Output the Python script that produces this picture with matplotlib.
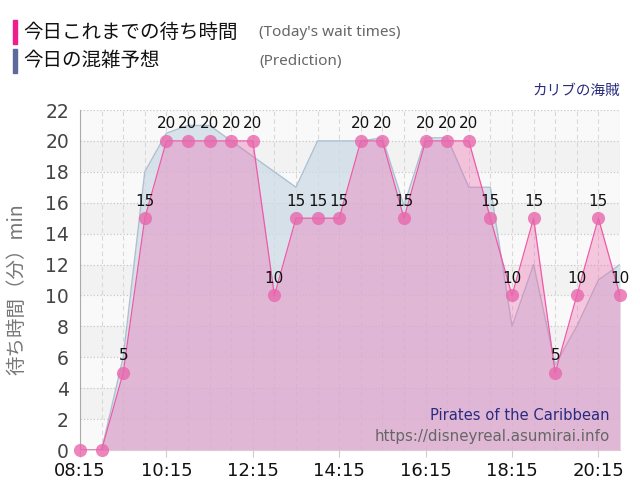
import matplotlib
matplotlib.use('Agg')
import matplotlib.pyplot as plt

plt.rcParams['font.family'] = ['DejaVu Sans', 'Noto Sans CJK JP']

# 30分ごとの時刻
times = ['08:15', '08:45', '09:15', '09:45', '10:15', '10:45', '11:15', '11:45', '12:15',
         '12:45', '13:15', '13:45', '14:15', '14:45', '15:15', '15:45', '16:15', '16:45',
         '17:15', '17:45', '18:15', '18:45', '19:15', '19:45', '20:15', '20:45']
# 今日これまでの待ち時間
actual = [0, 0, 5, 15, 20, 20, 20, 20, 20, 10, 15, 15, 15, 20, 20, 15, 20, 20, 20, 15, 10, 15, 5, 10, 15, 10]
# 今日の混雑予想
predict = [0, 0, 6, 18, 20.5, 21, 21, 20, 19, 18, 17, 20, 20, 20, 20.2, 15.8, 20.2, 20.2, 17, 17, 8, 12,
           5.5, 8, 11, 12]
tick_labels = ['08:15', '10:15', '12:15', '14:15', '16:15', '18:15', '20:15']

def to_min(t):
    h, m = t.split(':')
    return int(h) * 60 + int(m)

x = [to_min(t) for t in times]
xticks = [to_min(t) for t in tick_labels]

fig = plt.figure(figsize=(6.4, 5), dpi=100)
ax = fig.add_axes([80 / 640, 1 - 450 / 500, 540 / 640, 340 / 500])

# 背景の縞
for k in range(11):
    c = '#f9f9f9' if k % 2 == 0 else '#f2f2f2'
    ax.axhspan(2 * k, 2 * k + 2, color=c, zorder=0, lw=0)

ax.set_xlim(x[0], x[-1])
ax.set_ylim(0, 22)

# グリッド
for v in x:
    ax.axvline(v, color='#d8d8d8', lw=0.8, ls=(0, (4, 3)), zorder=1)
ax.grid(axis='y', color='#c8c8c8', lw=0.9, ls=':', zorder=1)
ax.set_axisbelow(True)

# 予想
ax.fill_between(x, predict, 0, color='#cddbe6', alpha=0.75, lw=0, zorder=2)
ax.plot(x, predict, color='#aec0cf', lw=1, zorder=3)
# 実績
ax.fill_between(x, actual, 0, color='#f06ab0', alpha=0.35, lw=0, zorder=4)
ax.plot(x, actual, color='#ee5aa8', lw=0.9, zorder=5)
ax.plot(x, actual, 'o', color='#e868ad', alpha=0.8, ms=9.5, mec='none', zorder=6, clip_on=False)

for xi, yi in zip(x, actual):
    if yi > 0:
        ax.annotate(str(yi), (xi, yi), xytext=(0, 9), textcoords='offset points',
                    ha='center', va='baseline', fontsize=11, color='#111111', zorder=7)

ax.set_yticks(range(0, 23, 2))
ax.set_xticks(xticks)
ax.set_xticklabels(tick_labels, fontsize=13, color='#111111')
ax.tick_params(axis='y', labelsize=13.5, labelcolor='#444444', length=0, pad=8)
ax.tick_params(axis='x', length=5, color='#cccccc', pad=4)
for s in ['top', 'right']:
    ax.spines[s].set_visible(False)
ax.spines['left'].set_color('#aaaaaa')
ax.spines['bottom'].set_color('#dddddd')

fig.text(17 / 640, 1 - 289 / 500, '待ち時間（分）min', rotation=90, ha='center', va='center',
         fontsize=14, color='#777777', family=['Noto Sans CJK JP'])

# 凡例
fig.patches.append(plt.Rectangle((13 / 640, 1 - 44 / 500), 4 / 640, 24 / 500, color='#ee1e8c',
                                 transform=fig.transFigure, figure=fig))
fig.patches.append(plt.Rectangle((13 / 640, 1 - 73 / 500), 4 / 640, 24 / 500, color='#5d6b9c',
                                 transform=fig.transFigure, figure=fig))
fig.text(23 / 640, 1 - 32 / 500, '今日これまでの待ち時間', fontsize=14, va='center', color='#111111',
         family=['Noto Sans CJK JP'])
fig.text(23 / 640, 1 - 61 / 500, '今日の混雑予想', fontsize=14, va='center', color='#111111',
         family=['Noto Sans CJK JP'])
fig.text(259 / 640, 1 - 32 / 500, "(Today's wait times)", fontsize=11, va='center', color='#666666',
         family=['Noto Sans'])
fig.text(259 / 640, 1 - 61 / 500, '(Prediction)', fontsize=11, va='center', color='#666666',
         family=['Noto Sans'])

fig.text(620 / 640, 1 - 91 / 500, 'カリブの海賊', fontsize=10.5, ha='right', va='center',
         color='#2a2a80', family=['Noto Sans CJK JP'])
fig.text(610 / 640, 1 - 415 / 500, 'Pirates of the Caribbean', fontsize=10.6, ha='right', va='center',
         color='#2a2a80')
fig.text(610 / 640, 1 - 436 / 500, 'https://disneyreal.asumirai.info', fontsize=10.8, ha='right',
         va='center', color='#666666')

plt.savefig('out.png')
